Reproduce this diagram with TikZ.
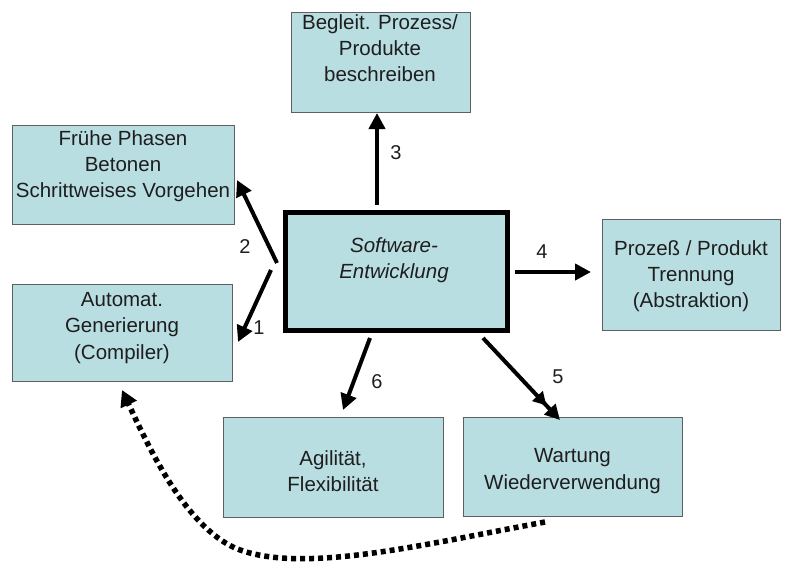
\documentclass[tikz,border=0pt]{standalone}
\usepackage{fontspec}
\setmainfont{Liberation Sans}
\usetikzlibrary{arrows.meta}
\definecolor{boxfill}{RGB}{185,222,226}
\definecolor{boxline}{RGB}{95,95,95}
\definecolor{txt}{RGB}{30,30,30}
\begin{document}
\begin{tikzpicture}[x=1pt,y=-1pt,
  box/.style={draw=boxline, line width=0.9pt, fill=boxfill, inner sep=0pt},
  lbl/.style={align=center, text=txt, font=\fontsize{20.5}{26.3}\selectfont, inner sep=0pt},
  num/.style={text=txt, font=\fontsize{20}{22}\selectfont, inner sep=0pt},
  arr/.style={line width=4pt, -{Triangle[length=16pt,width=16pt]}},
  dotline/.style={line width=5.5pt, dash pattern=on 5pt off 4pt, -{Triangle[length=16pt,width=17pt]}}
]
\useasboundingbox (0,0) rectangle (790,563);
\fill[white] (0,0) rectangle (790,563);
% boxes
\node[box, minimum width=179pt, minimum height=100pt] (b3) at (380.5,62) {};
\node[box, minimum width=222pt, minimum height=99pt] (b2) at (123,174.5) {};
\node[box, minimum width=220pt, minimum height=97pt] (b1) at (122,332.5) {};
\node[box, draw=black, line width=5pt, minimum width=222pt, minimum height=118pt] (sw) at (396.5,271.5) {};
\node[box, minimum width=178pt, minimum height=111pt] (b4) at (691,274.5) {};
\node[box, minimum width=220pt, minimum height=100pt] (b6) at (333,467) {};
\node[box, minimum width=219pt, minimum height=99pt] (b5) at (572.5,466.5) {};
% texts
\node[lbl] (t3) at (380,48) {Begleit. Prozess/\\Produkte\\beschreiben};
\node[lbl] (t2) at (123,166) {Frühe Phasen\\Betonen\\Schrittweises Vorgehen};
\node[lbl] (t1) at (122,328) {Automat.\\Generierung\\(Compiler)};
\node[lbl, font=\fontsize{20.5}{26.3}\selectfont\itshape] (tsw) at (394,260) {Software-\\Entwicklung};
\node[lbl] (t4) at (691,276) {Prozeß / Produkt\\Trennung\\(Abstraktion)};
\node[lbl] (t6) at (333,471) {Agilität,\\Flexibilität};
\node[lbl] (t5) at (572.5,471) {Wartung\\Wiederverwendung};
% arrow end points
\coordinate (a3s) at (377,205); \coordinate (a3e) at (377,113);
\coordinate (a2s) at (277,263); \coordinate (a2e) at (237,180);
\coordinate (a1s) at (271,270); \coordinate (a1e) at (238,342);
\coordinate (a4s) at (515,272); \coordinate (a4e) at (591,272);
\coordinate (a5s) at (483,338); \coordinate (a5e) at (560,420);
\coordinate (a6s) at (370,338); \coordinate (a6e) at (343,410);
\coordinate (dS) at (545,522); \coordinate (dM) at (235,548); \coordinate (dE) at (122,390);
% arrows
\draw[arr] (a3s) -- (a3e);
\draw[arr] (a2s) -- (a2e);
\draw[arr] (a1s) -- (a1e);
\draw[arr] (a4s) -- (a4e);
\draw[line width=4pt, -{Triangle[length=13pt,width=14pt,sep=5pt]Triangle[length=15pt,width=15pt]}] (a5s) -- (a5e);
\draw[arr] (a6s) -- (a6e);
\draw[dotline] (dS) .. controls (420,545) and (300,575) .. (dM) .. controls (185,525) and (150,450) .. (dE);
% numbers
\node[num] (n3) at (396,153) {3};
\node[num] (n2) at (245,247) {2};
\node[num] (n1) at (259,328) {1};
\node[num] (n4) at (542,252) {4};
\node[num] (n5) at (558,377) {5};
\node[num] (n6) at (377,382) {6};
\end{tikzpicture}
\end{document}
